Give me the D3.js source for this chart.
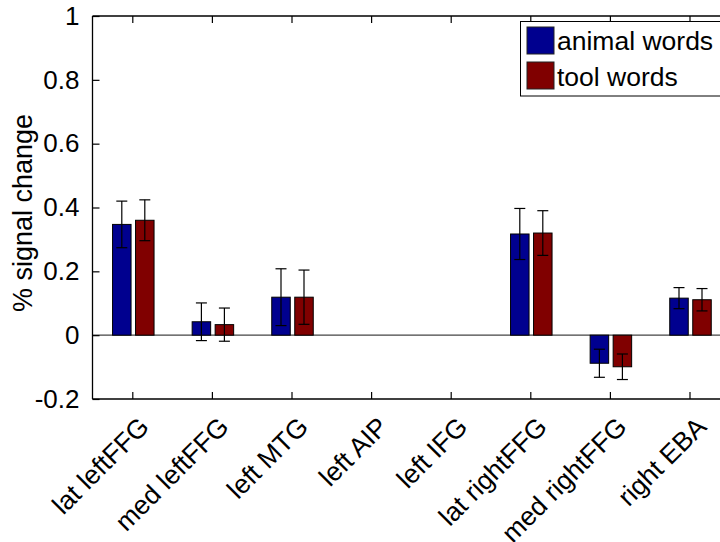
<!DOCTYPE html>
<html>
<head>
<meta charset="utf-8">
<script src="https://cdn.jsdelivr.net/npm/d3@7"></script>
<style>
  html, body { margin: 0; padding: 0; background: #fff; }
  svg { display: block; font-family: "Liberation Sans", Arial, Helvetica, sans-serif; }
</style>
</head>
<body>
<svg id="chart" width="720" height="542"></svg>
<script>
const categories = ["lat leftFFG", "med leftFFG", "left MTG", "left AIP", "left IFG", "lat rightFFG", "med rightFFG", "right EBA"];
const seriesNames = ["animal words", "tool words"];
const animalValues = [0.347, 0.042, 0.119, null, null, 0.317, -0.088, 0.116];
const animalErrors = [0.073, 0.059, 0.089, null, null, 0.080, 0.044, 0.033];
const toolValues   = [0.360, 0.033, 0.119, null, null, 0.320, -0.099, 0.111];
const toolErrors   = [0.064, 0.052, 0.085, null, null, 0.070, 0.040, 0.035];
const yTicks = [-0.2, 0, 0.2, 0.4, 0.6, 0.8, 1];
const yTickLabels = ["-0.2", "0", "0.2", "0.4", "0.6", "0.8", "1"];

const colors = ["#00008f", "#800000"];
const svg = d3.select("#chart");

const pLeft = 92.5, pRight = 729.3, pTop = 16, pBottom = 399;
const x = d3.scaleLinear().domain([0.5, categories.length + 0.5]).range([pLeft, pRight]);
const y = d3.scaleLinear().domain([-0.2, 1]).range([pBottom, pTop]);

const barW = 18.5;
const offsets = [-10.5, 12.5];
const series = [
  { name: seriesNames[0], values: animalValues, errors: animalErrors, color: colors[0], off: offsets[0] },
  { name: seriesNames[1], values: toolValues, errors: toolErrors, color: colors[1], off: offsets[1] }
];

// zero baseline
svg.append("line")
  .attr("x1", pLeft).attr("x2", 720)
  .attr("y1", y(0)).attr("y2", y(0))
  .attr("stroke", "#444").attr("stroke-width", 1.2);

// bars
series.forEach(s => {
  const g = svg.append("g");
  categories.forEach((c, i) => {
    const v = s.values[i];
    if (v === null) return;
    const cx = x(i + 1) + s.off;
    g.append("rect")
      .attr("x", cx - barW / 2)
      .attr("y", Math.min(y(v), y(0)))
      .attr("width", barW)
      .attr("height", Math.abs(y(v) - y(0)))
      .attr("fill", s.color)
      .attr("stroke", "#000")
      .attr("stroke-width", 1);
  });
});

// error bars
series.forEach(s => {
  const g = svg.append("g").attr("stroke", "#000").attr("stroke-width", 1.2);
  categories.forEach((c, i) => {
    const v = s.values[i], e = s.errors[i];
    if (v === null || e === null) return;
    const cx = x(i + 1) + s.off;
    const capW = 5.5;
    g.append("line").attr("x1", cx).attr("x2", cx).attr("y1", y(v + e)).attr("y2", y(v - e));
    g.append("line").attr("x1", cx - capW).attr("x2", cx + capW).attr("y1", y(v + e)).attr("y2", y(v + e));
    g.append("line").attr("x1", cx - capW).attr("x2", cx + capW).attr("y1", y(v - e)).attr("y2", y(v - e));
  });
});

// axes box
const axisG = svg.append("g").attr("stroke", "#000").attr("stroke-width", 1.3).attr("fill", "none");
axisG.append("line").attr("x1", pLeft).attr("x2", 720).attr("y1", pTop).attr("y2", pTop);
axisG.append("line").attr("x1", pLeft).attr("x2", 720).attr("y1", pBottom).attr("y2", pBottom);
axisG.append("line").attr("x1", pLeft).attr("x2", pLeft).attr("y1", pTop).attr("y2", pBottom);

// y axis ticks (inward) and labels
const yAxis = d3.axisLeft(y).tickValues(yTicks).tickSizeInner(-7).tickSizeOuter(0)
  .tickFormat((d, i) => yTickLabels[i]).tickPadding(13);
const ya = svg.append("g").attr("transform", `translate(${pLeft},0)`).call(yAxis);
ya.select(".domain").remove();
ya.selectAll("line").attr("stroke", "#000").attr("stroke-width", 1.2);
ya.selectAll("text").attr("font-size", 26).attr("fill", "#000")
  .attr("font-family", "Liberation Sans, Arial, sans-serif");

// x ticks bottom (inward) and top (inward)
const xTickVals = categories.map((c, i) => i + 1);
const xb = svg.append("g").attr("transform", `translate(0,${pBottom})`)
  .call(d3.axisBottom(x).tickValues(xTickVals).tickSizeInner(-7).tickSizeOuter(0).tickFormat(""));
xb.select(".domain").remove();
xb.selectAll("line").attr("stroke", "#000").attr("stroke-width", 1.2);
const xt = svg.append("g").attr("transform", `translate(0,${pTop})`)
  .call(d3.axisTop(x).tickValues(xTickVals).tickSizeInner(-7).tickSizeOuter(0).tickFormat(""));
xt.select(".domain").remove();
xt.selectAll("line").attr("stroke", "#000").attr("stroke-width", 1.2);

// x labels rotated
svg.append("g").selectAll("text").data(categories).join("text")
  .attr("transform", (d, i) => `translate(${x(i + 1)},410) rotate(-45)`)
  .attr("text-anchor", "end")
  .attr("dy", 26)
  .attr("font-size", 26.5)
  .attr("fill", "#000")
  .text(d => d);

// y label
svg.append("text")
  .attr("transform", `translate(32,213) rotate(-90)`)
  .attr("text-anchor", "middle")
  .attr("font-size", 27)
  .attr("fill", "#000")
  .text("% signal change");

// legend
const lg = svg.append("g");
lg.append("rect").attr("x", 520.5).attr("y", 21.5).attr("width", 220).attr("height", 74.5)
  .attr("fill", "#fff").attr("stroke", "#000").attr("stroke-width", 1);
series.forEach((s, i) => {
  lg.append("rect").attr("x", 527).attr("y", 27 + i * 35).attr("width", 27).attr("height", 27)
    .attr("fill", s.color).attr("stroke", "#222").attr("stroke-width", 1);
  lg.append("text").attr("x", 557).attr("y", 49.5 + i * 36.5)
    .attr("font-size", 26.5).attr("fill", "#000").text(s.name);
});
</script>
</body>
</html>
